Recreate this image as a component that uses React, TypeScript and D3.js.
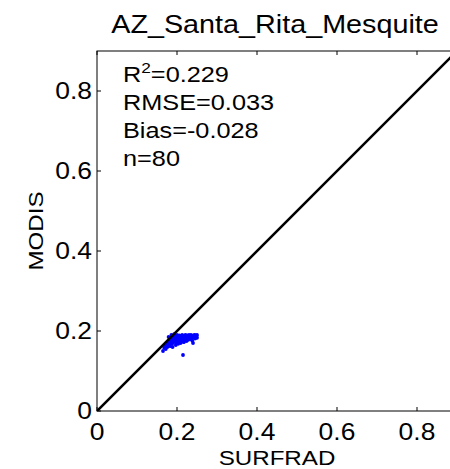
import React from "react";
import * as d3 from "d3";

const title = "AZ_Santa_Rita_Mesquite";
const xLabel = "SURFRAD";
const yLabel = "MODIS";
const ticks = [0, 0.2, 0.4, 0.6, 0.8];
const tickLabels = ["0", "0.2", "0.4", "0.6", "0.8"];
const stats = ["=0.229", "RMSE=0.033", "Bias=-0.028", "n=80"];

const surfrad = [
  0.165, 0.168, 0.17, 0.172, 0.175, 0.178, 0.18, 0.182, 0.184, 0.185,
  0.187, 0.188, 0.19, 0.191, 0.192, 0.194, 0.195, 0.196, 0.198, 0.199,
  0.2, 0.201, 0.202, 0.204, 0.205, 0.206, 0.207, 0.208, 0.21, 0.211,
  0.212, 0.213, 0.214, 0.215, 0.215, 0.216, 0.218, 0.219, 0.22, 0.221,
  0.222, 0.223, 0.224, 0.225, 0.226, 0.227, 0.228, 0.229, 0.23, 0.231,
  0.232, 0.233, 0.234, 0.235, 0.236, 0.237, 0.238, 0.239, 0.24, 0.241,
  0.242, 0.243, 0.244, 0.245, 0.246, 0.247, 0.248, 0.249, 0.25, 0.25,
  0.176, 0.183, 0.189, 0.197, 0.203, 0.209, 0.217, 0.186, 0.193, 0.179,
];
const modis = [
  0.15, 0.158, 0.163, 0.155, 0.168, 0.172, 0.165, 0.178, 0.17, 0.182,
  0.175, 0.168, 0.185, 0.178, 0.172, 0.188, 0.18, 0.175, 0.184, 0.17,
  0.19, 0.182, 0.177, 0.186, 0.173, 0.189, 0.181, 0.176, 0.187, 0.183,
  0.179, 0.19, 0.174, 0.185, 0.14, 0.181, 0.188, 0.177, 0.184, 0.19,
  0.18, 0.186, 0.175, 0.189, 0.182, 0.187, 0.178, 0.185, 0.19, 0.183,
  0.188, 0.18, 0.186, 0.19, 0.184, 0.188, 0.176, 0.186, 0.17, 0.189,
  0.183, 0.187, 0.19, 0.181, 0.186, 0.189, 0.184, 0.188, 0.19, 0.183,
  0.16, 0.162, 0.16, 0.165, 0.168, 0.17, 0.172, 0.19, 0.192, 0.185,
];

const W = 450;
const H = 469;
const left = 97;
const top = 51;
const size = 360;

export default function App() {
  const x = d3.scaleLinear().domain([0, 0.9]).range([left, left + size]);
  const y = d3.scaleLinear().domain([0, 0.9]).range([top + size, top]);
  const font = "Arial, 'Liberation Sans', Helvetica, sans-serif";
  const sx = 1.15;
  const line = d3.line<number>().x((d) => x(d)).y((d) => y(d));
  return (
    <svg
      width={W}
      height={H}
      style={{ position: "absolute", left: 0, top: 0, background: "#fff" }}
      fontFamily={font}
    >
      <defs>
        <clipPath id="plot">
          <rect x={left} y={top} width={size} height={size} />
        </clipPath>
      </defs>
      <rect x={0} y={0} width={W} height={H} fill="#fff" />
      <rect x={left} y={top} width={size} height={size} fill="none" stroke="#000" strokeWidth={1} />
      {ticks.map((t) => (
        <g key={t}>
          <line x1={x(t)} x2={x(t)} y1={top + size} y2={top + size - 4} stroke="#000" />
          <line x1={x(t)} x2={x(t)} y1={top} y2={top + 4} stroke="#000" />
          <line x1={left} x2={left + 4} y1={y(t)} y2={y(t)} stroke="#000" />
        </g>
      ))}
      <g clipPath="url(#plot)">
        {surfrad.map((v, i) => (
          <circle key={i} cx={x(v)} cy={y(modis[i])} r={1.9} fill="#0000ff" />
        ))}
        <path d={line([0, 0.9]) || ""} stroke="#000" strokeWidth={2.6} fill="none" />
      </g>
      {ticks.map((t, i) => (
        <text
          key={"x" + t}
          transform={`translate(${x(t)},440) scale(${sx},1)`}
          textAnchor="middle"
          fontSize={23}
        >
          {tickLabels[i]}
        </text>
      ))}
      {ticks.map((t, i) => (
        <text
          key={"y" + t}
          transform={`translate(92,${y(t) + 8}) scale(${sx},1)`}
          textAnchor="end"
          fontSize={23}
        >
          {tickLabels[i]}
        </text>
      ))}
      <text transform={`translate(277,465) scale(${sx},1)`} textAnchor="middle" fontSize={21}>
        {xLabel}
      </text>
      <text
        transform={`translate(43,${top + size / 2}) rotate(-90) scale(${sx},1)`}
        textAnchor="middle"
        fontSize={21}
      >
        {yLabel}
      </text>
      <text transform={`translate(275,33) scale(${sx},1)`} textAnchor="middle" fontSize={25}>
        {title}
      </text>
      <text transform={`translate(123,82) scale(${sx},1)`} fontSize={22}>
        R<tspan dy={-9} fontSize={15}>2</tspan>
        <tspan dy={9}>{stats[0]}</tspan>
      </text>
      {stats.slice(1).map((s, i) => (
        <text key={s} transform={`translate(123,${110 + i * 28}) scale(${sx},1)`} fontSize={22}>
          {s}
        </text>
      ))}
    </svg>
  );
}
